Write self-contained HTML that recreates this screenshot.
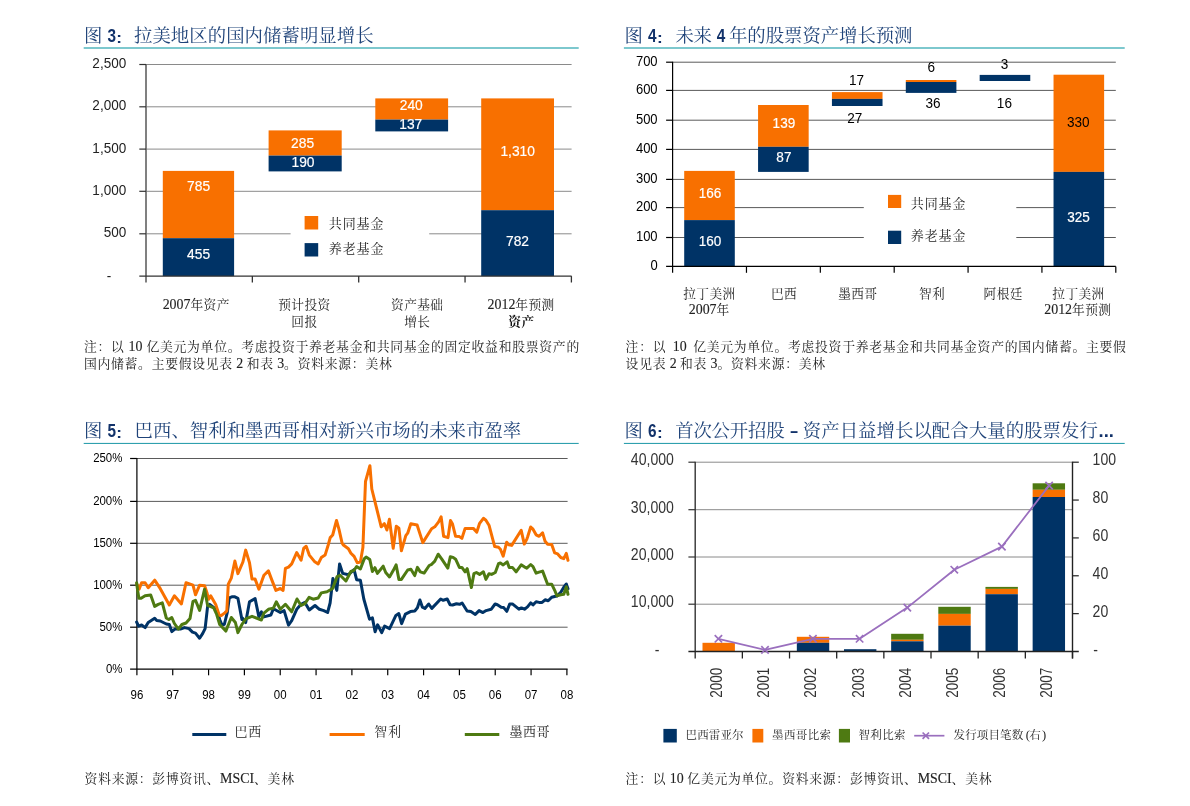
<!DOCTYPE html>
<html lang="zh"><head><meta charset="utf-8"><title>图表</title>
<style>html,body{margin:0;padding:0;background:#fff}svg{display:block}text{white-space:pre}</style>
</head><body>
<svg width="1190" height="806" viewBox="0 0 1190 806">
<rect width="1190" height="806" fill="#fff"/>
<text transform="translate(83.90,42.00)" font-size="18.4" text-anchor="start" fill="#1F4379" font-family='"Liberation Serif", "Noto Serif CJK SC", serif'>图</text>
<text transform="translate(107.40,41.50) scale(0.82,1)" font-size="18.7" text-anchor="start" fill="#12326A" font-family='"Liberation Sans", sans-serif' font-weight="bold">3</text>
<text transform="translate(116.20,42.80) scale(1.15,1)" font-size="15.0" text-anchor="start" fill="#12326A" font-family='"Liberation Sans", sans-serif' font-weight="bold">:</text>
<text transform="translate(134.00,42.00)" font-size="18.4" text-anchor="start" fill="#1F4379" font-family='"Liberation Serif", "Noto Serif CJK SC", serif' textLength="239.60" lengthAdjust="spacing">拉美地区的国内储蓄明显增长</text>
<rect x="83.70" y="47.00" width="495.00" height="2.00" fill="#7DC8CE"/>
<line x1="146.00" y1="64.50" x2="571.60" y2="64.50" stroke="#8a8a8a" stroke-width="1"/>
<line x1="146.00" y1="106.80" x2="571.60" y2="106.80" stroke="#8a8a8a" stroke-width="1"/>
<line x1="146.00" y1="149.10" x2="571.60" y2="149.10" stroke="#8a8a8a" stroke-width="1"/>
<line x1="146.00" y1="191.30" x2="571.60" y2="191.30" stroke="#8a8a8a" stroke-width="1"/>
<line x1="146.00" y1="233.80" x2="571.60" y2="233.80" stroke="#8a8a8a" stroke-width="1"/>
<rect x="290.60" y="205.00" width="138.60" height="61.00" fill="#fff"/>
<rect x="162.80" y="170.90" width="71.30" height="67.30" fill="#F87000"/>
<rect x="162.80" y="238.20" width="71.30" height="37.90" fill="#003366"/>
<rect x="268.60" y="130.40" width="73.10" height="25.20" fill="#F87000"/>
<rect x="268.60" y="155.60" width="73.10" height="15.80" fill="#003366"/>
<rect x="375.30" y="98.40" width="72.80" height="21.20" fill="#F87000"/>
<rect x="375.30" y="119.60" width="72.80" height="11.80" fill="#003366"/>
<rect x="481.20" y="98.40" width="72.80" height="111.80" fill="#F87000"/>
<rect x="481.20" y="210.20" width="72.80" height="65.90" fill="#003366"/>
<line x1="146.00" y1="63.90" x2="146.00" y2="282.50" stroke="#6a6a6a" stroke-width="1.7"/>
<line x1="139.30" y1="64.50" x2="146.00" y2="64.50" stroke="#333" stroke-width="1.2"/>
<line x1="139.30" y1="106.80" x2="146.00" y2="106.80" stroke="#333" stroke-width="1.2"/>
<line x1="139.30" y1="149.10" x2="146.00" y2="149.10" stroke="#333" stroke-width="1.2"/>
<line x1="139.30" y1="191.30" x2="146.00" y2="191.30" stroke="#333" stroke-width="1.2"/>
<line x1="139.30" y1="233.80" x2="146.00" y2="233.80" stroke="#333" stroke-width="1.2"/>
<line x1="139.30" y1="276.10" x2="571.60" y2="276.10" stroke="#333" stroke-width="1.4"/>
<line x1="252.35" y1="276.10" x2="252.35" y2="282.50" stroke="#333" stroke-width="1.3"/>
<line x1="358.70" y1="276.10" x2="358.70" y2="282.50" stroke="#333" stroke-width="1.3"/>
<line x1="465.05" y1="276.10" x2="465.05" y2="282.50" stroke="#333" stroke-width="1.3"/>
<line x1="571.40" y1="276.10" x2="571.40" y2="282.50" stroke="#333" stroke-width="1.3"/>
<text transform="translate(126.20,68.00) scale(0.89,1)" font-size="15.2" text-anchor="end" fill="#222" font-family='"Liberation Sans", sans-serif'>2,500</text>
<text transform="translate(126.20,110.30) scale(0.89,1)" font-size="15.2" text-anchor="end" fill="#222" font-family='"Liberation Sans", sans-serif'>2,000</text>
<text transform="translate(126.20,152.60) scale(0.89,1)" font-size="15.2" text-anchor="end" fill="#222" font-family='"Liberation Sans", sans-serif'>1,500</text>
<text transform="translate(126.20,194.80) scale(0.89,1)" font-size="15.2" text-anchor="end" fill="#222" font-family='"Liberation Sans", sans-serif'>1,000</text>
<text transform="translate(126.20,237.30) scale(0.89,1)" font-size="15.2" text-anchor="end" fill="#222" font-family='"Liberation Sans", sans-serif'>500</text>
<text transform="translate(109.00,280.70) scale(0.89,1)" font-size="15.2" text-anchor="middle" fill="#222" font-family='"Liberation Sans", sans-serif'>-</text>
<text transform="translate(198.60,191.45) scale(0.89,1)" font-size="15.5" text-anchor="middle" fill="#fff" font-family='"Liberation Sans", sans-serif' stroke="#fff" stroke-width="0.2">785</text>
<text transform="translate(198.60,258.95) scale(0.89,1)" font-size="15.5" text-anchor="middle" fill="#fff" font-family='"Liberation Sans", sans-serif' stroke="#fff" stroke-width="0.2">455</text>
<text transform="translate(302.60,147.65) scale(0.89,1)" font-size="15.5" text-anchor="middle" fill="#fff" font-family='"Liberation Sans", sans-serif' stroke="#fff" stroke-width="0.2">285</text>
<text transform="translate(303.00,167.45) scale(0.89,1)" font-size="15.5" text-anchor="middle" fill="#fff" font-family='"Liberation Sans", sans-serif' stroke="#fff" stroke-width="0.2">190</text>
<text transform="translate(411.30,110.05) scale(0.89,1)" font-size="15.5" text-anchor="middle" fill="#fff" font-family='"Liberation Sans", sans-serif' stroke="#fff" stroke-width="0.2">240</text>
<text transform="translate(410.80,128.75) scale(0.89,1)" font-size="15.5" text-anchor="middle" fill="#fff" font-family='"Liberation Sans", sans-serif' stroke="#fff" stroke-width="0.2">137</text>
<text transform="translate(517.70,156.45) scale(0.89,1)" font-size="15.5" text-anchor="middle" fill="#fff" font-family='"Liberation Sans", sans-serif' stroke="#fff" stroke-width="0.2">1,310</text>
<text transform="translate(517.50,246.05) scale(0.89,1)" font-size="15.5" text-anchor="middle" fill="#fff" font-family='"Liberation Sans", sans-serif' stroke="#fff" stroke-width="0.2">782</text>
<rect x="304.60" y="216.00" width="13.60" height="13.50" fill="#F87000"/>
<rect x="304.60" y="243.10" width="13.60" height="13.40" fill="#003366"/>
<text transform="translate(328.80,228.10)" font-size="13.0" text-anchor="start" fill="#222" font-family='"Liberation Serif", "Noto Serif CJK SC", serif' textLength="54.60" lengthAdjust="spacing">共同基金</text>
<text transform="translate(328.80,253.00)" font-size="13.0" text-anchor="start" fill="#222" font-family='"Liberation Serif", "Noto Serif CJK SC", serif' textLength="54.60" lengthAdjust="spacing">养老基金</text>
<text x="196.20" y="309.00" text-anchor="middle" fill="#222" font-family='"Liberation Serif", "Noto Serif CJK SC", serif'><tspan font-size="13.9" stroke="#222" stroke-width="0.12">2007</tspan><tspan font-size="12.7" letter-spacing="0.40">年资产</tspan></text>
<text x="304.40" y="309.00" text-anchor="middle" fill="#222" font-family='"Liberation Serif", "Noto Serif CJK SC", serif'><tspan font-size="12.7" letter-spacing="0.40">预计投资</tspan></text>
<text x="304.40" y="325.60" text-anchor="middle" fill="#222" font-family='"Liberation Serif", "Noto Serif CJK SC", serif'><tspan font-size="12.7" letter-spacing="0.40">回报</tspan></text>
<text x="417.30" y="309.00" text-anchor="middle" fill="#222" font-family='"Liberation Serif", "Noto Serif CJK SC", serif'><tspan font-size="12.7" letter-spacing="0.40">资产基础</tspan></text>
<text x="417.30" y="325.60" text-anchor="middle" fill="#222" font-family='"Liberation Serif", "Noto Serif CJK SC", serif'><tspan font-size="12.7" letter-spacing="0.40">增长</tspan></text>
<text x="521.10" y="309.00" text-anchor="middle" fill="#222" font-family='"Liberation Serif", "Noto Serif CJK SC", serif'><tspan font-size="13.9" stroke="#222" stroke-width="0.12">2012</tspan><tspan font-size="12.7" letter-spacing="0.40">年预测</tspan></text>
<text x="521.40" y="325.60" text-anchor="middle" fill="#111" font-family='"Liberation Serif", "Noto Serif CJK SC", serif' font-weight="bold"><tspan font-size="12.7" letter-spacing="0.40">资产</tspan></text>
<text x="83.90" y="350.60" fill="#222" font-family='"Liberation Serif", "Noto Serif CJK SC", serif'><tspan font-size="12.8" letter-spacing="0.75">注：以</tspan><tspan font-size="13.9" dx="4.0" stroke="#222" stroke-width="0.12">10</tspan><tspan font-size="12.8" letter-spacing="0.75" dx="4.0">亿美元为单位。考虑投资于养老基金和共同基金的固定收益和股票资产的</tspan></text>
<text x="83.90" y="368.40" fill="#222" font-family='"Liberation Serif", "Noto Serif CJK SC", serif'><tspan font-size="12.8" letter-spacing="0.75">国内储蓄。主要假设见表</tspan><tspan font-size="13.9" dx="3.4" stroke="#222" stroke-width="0.12">2</tspan><tspan font-size="12.8" letter-spacing="0.75" dx="3.4">和表</tspan><tspan font-size="13.9" dx="3.4" stroke="#222" stroke-width="0.12">3</tspan><tspan font-size="12.8" letter-spacing="0.75">。资料来源：美林</tspan></text>
<text transform="translate(624.60,42.00)" font-size="18.4" text-anchor="start" fill="#1F4379" font-family='"Liberation Serif", "Noto Serif CJK SC", serif'>图</text>
<text transform="translate(648.10,41.50) scale(0.82,1)" font-size="18.7" text-anchor="start" fill="#12326A" font-family='"Liberation Sans", sans-serif' font-weight="bold">4</text>
<text transform="translate(656.90,42.80) scale(1.15,1)" font-size="15.0" text-anchor="start" fill="#12326A" font-family='"Liberation Sans", sans-serif' font-weight="bold">:</text>
<text transform="translate(675.40,42.00)" font-size="18.4" text-anchor="start" fill="#1F4379" font-family='"Liberation Serif", "Noto Serif CJK SC", serif' textLength="36.40" lengthAdjust="spacing">未来</text>
<text transform="translate(716.80,41.50) scale(0.82,1)" font-size="18.7" text-anchor="start" fill="#12326A" font-family='"Liberation Sans", sans-serif' font-weight="bold">4</text>
<text transform="translate(729.00,42.00)" font-size="18.4" text-anchor="start" fill="#1F4379" font-family='"Liberation Serif", "Noto Serif CJK SC", serif' textLength="183.50" lengthAdjust="spacing">年的股票资产增长预测</text>
<rect x="623.90" y="47.00" width="500.80" height="2.00" fill="#7DC8CE"/>
<line x1="672.60" y1="237.50" x2="1115.80" y2="237.50" stroke="#5a5a5a" stroke-width="1"/>
<line x1="672.60" y1="207.60" x2="1115.80" y2="207.60" stroke="#5a5a5a" stroke-width="1"/>
<line x1="672.60" y1="179.40" x2="1115.80" y2="179.40" stroke="#5a5a5a" stroke-width="1"/>
<line x1="672.60" y1="149.40" x2="1115.80" y2="149.40" stroke="#5a5a5a" stroke-width="1"/>
<line x1="672.60" y1="120.20" x2="1115.80" y2="120.20" stroke="#5a5a5a" stroke-width="1"/>
<line x1="672.60" y1="90.40" x2="1115.80" y2="90.40" stroke="#5a5a5a" stroke-width="1"/>
<line x1="672.60" y1="62.20" x2="1115.80" y2="62.20" stroke="#5a5a5a" stroke-width="1"/>
<rect x="863.80" y="188.00" width="152.50" height="64.00" fill="#fff"/>
<rect x="684.20" y="170.90" width="50.60" height="49.20" fill="#F87000"/>
<rect x="684.20" y="220.10" width="50.60" height="46.30" fill="#003366"/>
<rect x="758.07" y="105.00" width="50.60" height="41.80" fill="#F87000"/>
<rect x="758.07" y="146.80" width="50.60" height="25.10" fill="#003366"/>
<rect x="831.93" y="92.10" width="50.60" height="6.80" fill="#F87000"/>
<rect x="831.93" y="98.90" width="50.60" height="7.10" fill="#003366"/>
<rect x="905.80" y="80.00" width="50.60" height="2.00" fill="#F87000"/>
<rect x="905.80" y="82.00" width="50.60" height="10.90" fill="#003366"/>
<rect x="979.67" y="74.90" width="50.60" height="6.10" fill="#003366"/>
<rect x="1053.53" y="74.70" width="50.60" height="97.20" fill="#F87000"/>
<rect x="1053.53" y="171.90" width="50.60" height="94.50" fill="#003366"/>
<line x1="672.60" y1="61.70" x2="672.60" y2="272.80" stroke="#000" stroke-width="1.2"/>
<line x1="666.10" y1="237.50" x2="672.60" y2="237.50" stroke="#000" stroke-width="1.2"/>
<line x1="666.10" y1="207.60" x2="672.60" y2="207.60" stroke="#000" stroke-width="1.2"/>
<line x1="666.10" y1="179.40" x2="672.60" y2="179.40" stroke="#000" stroke-width="1.2"/>
<line x1="666.10" y1="149.40" x2="672.60" y2="149.40" stroke="#000" stroke-width="1.2"/>
<line x1="666.10" y1="120.20" x2="672.60" y2="120.20" stroke="#000" stroke-width="1.2"/>
<line x1="666.10" y1="90.40" x2="672.60" y2="90.40" stroke="#000" stroke-width="1.2"/>
<line x1="666.10" y1="62.20" x2="672.60" y2="62.20" stroke="#000" stroke-width="1.2"/>
<line x1="666.10" y1="266.40" x2="1115.80" y2="266.40" stroke="#000" stroke-width="1.3"/>
<line x1="746.47" y1="266.40" x2="746.47" y2="272.80" stroke="#000" stroke-width="1.2"/>
<line x1="820.33" y1="266.40" x2="820.33" y2="272.80" stroke="#000" stroke-width="1.2"/>
<line x1="894.20" y1="266.40" x2="894.20" y2="272.80" stroke="#000" stroke-width="1.2"/>
<line x1="968.07" y1="266.40" x2="968.07" y2="272.80" stroke="#000" stroke-width="1.2"/>
<line x1="1041.93" y1="266.40" x2="1041.93" y2="272.80" stroke="#000" stroke-width="1.2"/>
<line x1="1115.80" y1="266.40" x2="1115.80" y2="272.80" stroke="#000" stroke-width="1.2"/>
<text transform="translate(657.60,270.00) scale(0.855,1)" font-size="15.2" text-anchor="end" fill="#000" font-family='"Liberation Sans", sans-serif'>0</text>
<text transform="translate(657.60,241.10) scale(0.855,1)" font-size="15.2" text-anchor="end" fill="#000" font-family='"Liberation Sans", sans-serif'>100</text>
<text transform="translate(657.60,211.20) scale(0.855,1)" font-size="15.2" text-anchor="end" fill="#000" font-family='"Liberation Sans", sans-serif'>200</text>
<text transform="translate(657.60,183.00) scale(0.855,1)" font-size="15.2" text-anchor="end" fill="#000" font-family='"Liberation Sans", sans-serif'>300</text>
<text transform="translate(657.60,153.00) scale(0.855,1)" font-size="15.2" text-anchor="end" fill="#000" font-family='"Liberation Sans", sans-serif'>400</text>
<text transform="translate(657.60,123.80) scale(0.855,1)" font-size="15.2" text-anchor="end" fill="#000" font-family='"Liberation Sans", sans-serif'>500</text>
<text transform="translate(657.60,94.00) scale(0.855,1)" font-size="15.2" text-anchor="end" fill="#000" font-family='"Liberation Sans", sans-serif'>600</text>
<text transform="translate(657.60,65.80) scale(0.855,1)" font-size="15.2" text-anchor="end" fill="#000" font-family='"Liberation Sans", sans-serif'>700</text>
<text transform="translate(710.10,198.45) scale(0.875,1)" font-size="15.5" text-anchor="middle" fill="#fff" font-family='"Liberation Sans", sans-serif' stroke="#fff" stroke-width="0.2">166</text>
<text transform="translate(710.10,245.55) scale(0.875,1)" font-size="15.5" text-anchor="middle" fill="#fff" font-family='"Liberation Sans", sans-serif' stroke="#fff" stroke-width="0.2">160</text>
<text transform="translate(783.90,128.25) scale(0.875,1)" font-size="15.5" text-anchor="middle" fill="#fff" font-family='"Liberation Sans", sans-serif' stroke="#fff" stroke-width="0.2">139</text>
<text transform="translate(783.90,161.85) scale(0.875,1)" font-size="15.5" text-anchor="middle" fill="#fff" font-family='"Liberation Sans", sans-serif' stroke="#fff" stroke-width="0.2">87</text>
<text transform="translate(856.50,84.75) scale(0.875,1)" font-size="15.5" text-anchor="middle" fill="#000" font-family='"Liberation Sans", sans-serif'>17</text>
<text transform="translate(854.80,122.85) scale(0.875,1)" font-size="15.5" text-anchor="middle" fill="#000" font-family='"Liberation Sans", sans-serif'>27</text>
<text transform="translate(931.30,71.75) scale(0.875,1)" font-size="15.5" text-anchor="middle" fill="#000" font-family='"Liberation Sans", sans-serif'>6</text>
<text transform="translate(933.00,107.75) scale(0.875,1)" font-size="15.5" text-anchor="middle" fill="#000" font-family='"Liberation Sans", sans-serif'>36</text>
<text transform="translate(1004.40,68.95) scale(0.875,1)" font-size="15.5" text-anchor="middle" fill="#000" font-family='"Liberation Sans", sans-serif'>3</text>
<text transform="translate(1004.40,107.75) scale(0.875,1)" font-size="15.5" text-anchor="middle" fill="#000" font-family='"Liberation Sans", sans-serif'>16</text>
<text transform="translate(1078.30,126.85) scale(0.875,1)" font-size="15.5" text-anchor="middle" fill="#000" font-family='"Liberation Sans", sans-serif'>330</text>
<text transform="translate(1078.60,221.85) scale(0.875,1)" font-size="15.5" text-anchor="middle" fill="#fff" font-family='"Liberation Sans", sans-serif' stroke="#fff" stroke-width="0.2">325</text>
<rect x="888.00" y="194.90" width="13.20" height="13.10" fill="#F87000"/>
<rect x="888.00" y="230.70" width="13.20" height="13.30" fill="#003366"/>
<text transform="translate(910.80,207.50)" font-size="13.0" text-anchor="start" fill="#222" font-family='"Liberation Serif", "Noto Serif CJK SC", serif' textLength="54.60" lengthAdjust="spacing">共同基金</text>
<text transform="translate(910.80,239.80)" font-size="13.0" text-anchor="start" fill="#222" font-family='"Liberation Serif", "Noto Serif CJK SC", serif' textLength="54.60" lengthAdjust="spacing">养老基金</text>
<text x="709.40" y="298.10" text-anchor="middle" fill="#222" font-family='"Liberation Serif", "Noto Serif CJK SC", serif'><tspan font-size="12.7" letter-spacing="0.40">拉丁美洲</tspan></text>
<text x="784.10" y="298.10" text-anchor="middle" fill="#222" font-family='"Liberation Serif", "Noto Serif CJK SC", serif'><tspan font-size="12.7" letter-spacing="0.40">巴西</tspan></text>
<text x="857.80" y="298.10" text-anchor="middle" fill="#222" font-family='"Liberation Serif", "Noto Serif CJK SC", serif'><tspan font-size="12.7" letter-spacing="0.40">墨西哥</tspan></text>
<text x="932.00" y="298.10" text-anchor="middle" fill="#222" font-family='"Liberation Serif", "Noto Serif CJK SC", serif'><tspan font-size="12.7" letter-spacing="0.40">智利</tspan></text>
<text x="1003.20" y="298.10" text-anchor="middle" fill="#222" font-family='"Liberation Serif", "Noto Serif CJK SC", serif'><tspan font-size="12.7" letter-spacing="0.40">阿根廷</tspan></text>
<text x="1078.50" y="298.10" text-anchor="middle" fill="#222" font-family='"Liberation Serif", "Noto Serif CJK SC", serif'><tspan font-size="12.7" letter-spacing="0.40">拉丁美洲</tspan></text>
<text x="709.20" y="314.00" text-anchor="middle" fill="#222" font-family='"Liberation Serif", "Noto Serif CJK SC", serif'><tspan font-size="13.9" stroke="#222" stroke-width="0.12">2007</tspan><tspan font-size="12.7" letter-spacing="0.40">年</tspan></text>
<text x="1077.80" y="314.00" text-anchor="middle" fill="#222" font-family='"Liberation Serif", "Noto Serif CJK SC", serif'><tspan font-size="13.9" stroke="#222" stroke-width="0.12">2012</tspan><tspan font-size="12.7" letter-spacing="0.40">年预测</tspan></text>
<text x="625.60" y="350.60" fill="#222" font-family='"Liberation Serif", "Noto Serif CJK SC", serif'><tspan font-size="12.8" letter-spacing="0.75">注：以</tspan><tspan font-size="13.9" dx="6.5" stroke="#222" stroke-width="0.12">10</tspan><tspan font-size="12.8" letter-spacing="0.75" dx="6.5">亿美元为单位。考虑投资于养老基金和共同基金资产的国内储蓄。主要假</tspan></text>
<text x="625.60" y="368.40" fill="#222" font-family='"Liberation Serif", "Noto Serif CJK SC", serif'><tspan font-size="12.8" letter-spacing="0.75">设见表</tspan><tspan font-size="13.9" dx="3.4" stroke="#222" stroke-width="0.12">2</tspan><tspan font-size="12.8" letter-spacing="0.75" dx="3.4">和表</tspan><tspan font-size="13.9" dx="3.4" stroke="#222" stroke-width="0.12">3</tspan><tspan font-size="12.8" letter-spacing="0.75">。资料来源：美林</tspan></text>
<text transform="translate(83.90,437.30)" font-size="18.4" text-anchor="start" fill="#1F4379" font-family='"Liberation Serif", "Noto Serif CJK SC", serif'>图</text>
<text transform="translate(107.40,436.80) scale(0.82,1)" font-size="18.7" text-anchor="start" fill="#12326A" font-family='"Liberation Sans", sans-serif' font-weight="bold">5</text>
<text transform="translate(116.20,438.10) scale(1.15,1)" font-size="15.0" text-anchor="start" fill="#12326A" font-family='"Liberation Sans", sans-serif' font-weight="bold">:</text>
<text transform="translate(134.60,437.30)" font-size="18.4" text-anchor="start" fill="#1F4379" font-family='"Liberation Serif", "Noto Serif CJK SC", serif' textLength="386.60" lengthAdjust="spacing">巴西、智利和墨西哥相对新兴市场的未来市盈率</text>
<rect x="83.70" y="442.90" width="495.00" height="1.10" fill="#2FA0AE"/>
<line x1="136.90" y1="627.20" x2="567.60" y2="627.20" stroke="#5a5a5a" stroke-width="1"/>
<line x1="136.90" y1="585.20" x2="567.60" y2="585.20" stroke="#5a5a5a" stroke-width="1"/>
<line x1="136.90" y1="543.30" x2="567.60" y2="543.30" stroke="#5a5a5a" stroke-width="1"/>
<line x1="136.90" y1="501.40" x2="567.60" y2="501.40" stroke="#5a5a5a" stroke-width="1"/>
<line x1="136.90" y1="458.50" x2="567.60" y2="458.50" stroke="#5a5a5a" stroke-width="1"/>
<line x1="136.90" y1="458.00" x2="136.90" y2="675.30" stroke="#000" stroke-width="1.2"/>
<line x1="130.10" y1="627.20" x2="136.90" y2="627.20" stroke="#000" stroke-width="1.2"/>
<line x1="130.10" y1="585.20" x2="136.90" y2="585.20" stroke="#000" stroke-width="1.2"/>
<line x1="130.10" y1="543.30" x2="136.90" y2="543.30" stroke="#000" stroke-width="1.2"/>
<line x1="130.10" y1="501.40" x2="136.90" y2="501.40" stroke="#000" stroke-width="1.2"/>
<line x1="130.10" y1="458.50" x2="136.90" y2="458.50" stroke="#000" stroke-width="1.2"/>
<line x1="130.10" y1="669.20" x2="567.60" y2="669.20" stroke="#000" stroke-width="1.3"/>
<text transform="translate(136.90,698.60) scale(0.85,1)" font-size="13.5" text-anchor="middle" fill="#000" font-family='"Liberation Sans", sans-serif'>96</text>
<line x1="172.73" y1="669.20" x2="172.73" y2="675.30" stroke="#000" stroke-width="1.2"/>
<text transform="translate(172.73,698.60) scale(0.85,1)" font-size="13.5" text-anchor="middle" fill="#000" font-family='"Liberation Sans", sans-serif'>97</text>
<line x1="208.57" y1="669.20" x2="208.57" y2="675.30" stroke="#000" stroke-width="1.2"/>
<text transform="translate(208.57,698.60) scale(0.85,1)" font-size="13.5" text-anchor="middle" fill="#000" font-family='"Liberation Sans", sans-serif'>98</text>
<line x1="244.40" y1="669.20" x2="244.40" y2="675.30" stroke="#000" stroke-width="1.2"/>
<text transform="translate(244.40,698.60) scale(0.85,1)" font-size="13.5" text-anchor="middle" fill="#000" font-family='"Liberation Sans", sans-serif'>99</text>
<line x1="280.23" y1="669.20" x2="280.23" y2="675.30" stroke="#000" stroke-width="1.2"/>
<text transform="translate(280.23,698.60) scale(0.85,1)" font-size="13.5" text-anchor="middle" fill="#000" font-family='"Liberation Sans", sans-serif'>00</text>
<line x1="316.07" y1="669.20" x2="316.07" y2="675.30" stroke="#000" stroke-width="1.2"/>
<text transform="translate(316.07,698.60) scale(0.85,1)" font-size="13.5" text-anchor="middle" fill="#000" font-family='"Liberation Sans", sans-serif'>01</text>
<line x1="351.90" y1="669.20" x2="351.90" y2="675.30" stroke="#000" stroke-width="1.2"/>
<text transform="translate(351.90,698.60) scale(0.85,1)" font-size="13.5" text-anchor="middle" fill="#000" font-family='"Liberation Sans", sans-serif'>02</text>
<line x1="387.73" y1="669.20" x2="387.73" y2="675.30" stroke="#000" stroke-width="1.2"/>
<text transform="translate(387.73,698.60) scale(0.85,1)" font-size="13.5" text-anchor="middle" fill="#000" font-family='"Liberation Sans", sans-serif'>03</text>
<line x1="423.57" y1="669.20" x2="423.57" y2="675.30" stroke="#000" stroke-width="1.2"/>
<text transform="translate(423.57,698.60) scale(0.85,1)" font-size="13.5" text-anchor="middle" fill="#000" font-family='"Liberation Sans", sans-serif'>04</text>
<line x1="459.40" y1="669.20" x2="459.40" y2="675.30" stroke="#000" stroke-width="1.2"/>
<text transform="translate(459.40,698.60) scale(0.85,1)" font-size="13.5" text-anchor="middle" fill="#000" font-family='"Liberation Sans", sans-serif'>05</text>
<line x1="495.23" y1="669.20" x2="495.23" y2="675.30" stroke="#000" stroke-width="1.2"/>
<text transform="translate(495.23,698.60) scale(0.85,1)" font-size="13.5" text-anchor="middle" fill="#000" font-family='"Liberation Sans", sans-serif'>06</text>
<line x1="531.07" y1="669.20" x2="531.07" y2="675.30" stroke="#000" stroke-width="1.2"/>
<text transform="translate(531.07,698.60) scale(0.85,1)" font-size="13.5" text-anchor="middle" fill="#000" font-family='"Liberation Sans", sans-serif'>07</text>
<line x1="566.90" y1="669.20" x2="566.90" y2="675.30" stroke="#000" stroke-width="1.2"/>
<text transform="translate(566.90,698.60) scale(0.85,1)" font-size="13.5" text-anchor="middle" fill="#000" font-family='"Liberation Sans", sans-serif'>08</text>
<text transform="translate(122.40,672.90) scale(0.847,1)" font-size="13.5" text-anchor="end" fill="#000" font-family='"Liberation Sans", sans-serif'>0%</text>
<text transform="translate(122.40,630.90) scale(0.847,1)" font-size="13.5" text-anchor="end" fill="#000" font-family='"Liberation Sans", sans-serif'>50%</text>
<text transform="translate(122.40,588.90) scale(0.847,1)" font-size="13.5" text-anchor="end" fill="#000" font-family='"Liberation Sans", sans-serif'>100%</text>
<text transform="translate(122.40,547.00) scale(0.847,1)" font-size="13.5" text-anchor="end" fill="#000" font-family='"Liberation Sans", sans-serif'>150%</text>
<text transform="translate(122.40,505.10) scale(0.847,1)" font-size="13.5" text-anchor="end" fill="#000" font-family='"Liberation Sans", sans-serif'>200%</text>
<text transform="translate(122.40,462.20) scale(0.847,1)" font-size="13.5" text-anchor="end" fill="#000" font-family='"Liberation Sans", sans-serif'>250%</text>
<polyline points="136.6,622.0 138.6,626.1 141.6,625.0 145.1,627.6 148.2,622.5 154.7,618.3 156.7,620.5 160.3,621.0 166.3,624.0 169.3,624.5 171.8,631.6 174.9,629.1 180.4,629.1 184.5,627.6 189.0,628.6 192.5,632.1 195.5,633.1 199.6,638.2 202.6,633.6 205.1,628.6 207.6,606.4 209.7,604.4 213.7,607.4 216.7,609.4 219.7,619.5 221.8,624.5 224.3,624.5 227.3,612.4 229.3,597.8 231.8,596.8 234.9,596.8 237.9,598.3 241.9,619.5 242.5,618.2 245.7,622.6 249.5,601.8 255.1,598.6 258.9,616.9 261.4,611.8 263.9,616.9 270.9,615.0 273.4,608.7 280.3,612.5 284.1,610.6 288.5,625.1 291.7,620.7 296.7,609.3 301.1,604.3 304.9,602.4 309.3,610.0 315.0,605.5 319.4,609.3 323.8,610.6 327.6,612.5 330.1,603.0 332.9,578.4 336.8,590.4 339.6,563.9 342.7,573.4 348.4,574.7 354.1,569.6 356.6,579.7 360.4,580.3 363.8,599.0 369.5,619.2 372.4,617.9 375.1,631.8 377.6,624.8 381.7,632.6 384.6,626.1 389.6,628.6 395.9,615.4 398.8,613.5 401.6,623.6 405.4,614.1 410.4,611.6 414.8,611.0 417.4,607.8 419.9,600.0 422.4,607.2 424.9,608.4 428.7,604.0 431.8,608.4 440.7,599.0 443.2,600.3 447.2,599.0 450.1,604.7 452.6,605.0 456.4,603.8 459.6,604.3 462.1,603.0 467.1,611.0 470.9,611.6 475.3,614.4 479.1,610.6 482.9,612.6 486.1,610.6 491.1,609.3 495.1,604.0 497.4,604.7 501.2,607.2 503.7,607.6 506.8,611.3 509.8,603.9 512.4,603.9 518.9,609.2 521.4,607.9 524.5,609.2 527.5,606.9 530.7,602.9 533.0,604.9 536.1,601.8 539.1,602.4 542.1,602.4 545.1,599.8 548.2,600.8 551.7,597.3 554.7,596.5 556.9,596.1 560.8,592.3 563.8,587.2 566.3,584.0 568.0,588.7" fill="none" stroke="#003366" stroke-width="3" stroke-linejoin="round" stroke-linecap="round"/>
<polyline points="136.9,584.2 139.1,589.2 141.6,582.7 145.1,582.7 148.2,587.7 154.7,580.2 160.3,588.7 169.3,604.9 174.4,595.8 181.4,603.9 186.0,582.7 193.0,585.2 195.5,594.8 199.6,585.2 204.6,585.7 207.1,593.3 208.7,599.3 210.7,595.8 215.7,604.4 219.2,615.3 221.3,615.5 224.8,612.9 226.8,610.9 228.3,584.2 231.3,578.2 234.9,561.0 237.9,573.6 242.9,562.0 245.7,550.1 249.5,562.7 252.0,579.1 255.1,579.1 258.9,589.2 263.9,575.3 268.4,570.9 271.5,579.1 275.9,590.4 280.3,588.5 283.1,590.4 285.4,568.4 288.5,567.1 291.7,563.9 296.7,552.6 301.1,560.2 303.7,548.2 306.2,546.3 309.3,555.1 314.4,561.4 318.2,563.9 321.3,557.6 325.1,555.1 328.2,545.0 330.2,537.6 332.7,535.0 336.5,520.5 339.0,529.4 342.1,543.2 343.4,545.0 348.4,548.8 350.9,553.2 354.1,556.4 357.2,562.7 360.4,562.1 362.9,547.6 365.5,481.5 369.9,465.7 371.8,489.0 381.2,526.8 384.4,523.7 386.9,530.0 389.4,519.3 393.2,548.3 396.3,526.2 398.9,528.1 401.4,550.8 405.8,535.7 407.7,533.2 410.8,523.7 417.1,525.0 422.8,542.6 431.6,528.7 434.8,526.8 438.6,521.8 441.1,516.8 443.6,536.3 448.0,537.6 450.5,520.5 452.4,523.7 455.6,536.3 459.4,536.6 461.9,538.4 465.1,528.4 473.3,528.4 476.8,532.1 479.6,523.3 483.4,518.3 485.9,520.2 489.0,525.2 494.7,546.6 498.5,547.3 500.4,549.2 503.2,556.1 506.7,542.2 508.6,544.7 511.7,545.4 521.2,530.3 524.3,544.1 526.8,539.1 527.5,537.3 530.7,527.0 533.0,529.2 536.1,534.8 539.1,536.3 542.6,532.8 545.1,541.3 547.6,544.2 551.7,544.4 554.7,552.9 557.7,553.9 560.8,557.5 563.8,558.7 566.3,553.4 568.0,560.3" fill="none" stroke="#F87000" stroke-width="3" stroke-linejoin="round" stroke-linecap="round"/>
<polyline points="136.6,582.7 137.6,590.3 138.9,598.3 141.1,598.3 145.1,595.8 150.7,595.1 154.7,606.4 158.2,604.4 162.3,602.9 166.3,618.0 168.8,619.5 171.8,617.5 174.4,623.5 178.4,629.1 181.9,624.5 186.0,623.0 190.0,618.5 193.0,601.3 195.5,600.3 199.6,610.4 204.6,589.2 207.6,605.4 213.7,607.9 216.7,614.5 219.7,624.5 225.8,631.1 231.3,617.5 235.4,622.5 237.9,632.6 241.9,624.5 245.7,618.8 252.0,616.3 261.4,620.0 263.9,613.1 268.4,609.3 273.4,608.1 276.3,601.8 280.3,609.3 285.4,604.3 291.7,611.8 297.0,599.0 301.1,605.5 304.9,603.7 309.1,597.4 313.1,599.2 318.2,598.0 321.3,592.9 327.0,591.7 332.6,588.5 337.1,576.6 340.2,575.3 345.9,581.0 350.9,571.5 354.1,570.3 356.6,566.5 360.4,569.0 364.2,558.9 366.1,557.0 369.8,559.5 372.4,571.5 374.9,567.7 377.4,573.4 383.2,566.2 385.7,572.5 389.5,576.9 393.2,570.6 396.1,564.9 398.9,579.4 401.4,579.4 407.7,570.0 410.9,569.3 414.7,575.6 417.4,567.4 420.3,571.8 424.1,573.1 429.2,565.5 431.7,564.3 434.8,561.1 438.2,554.2 441.8,559.2 447.8,568.1 450.3,556.7 453.1,557.4 455.6,559.2 459.4,567.4 461.9,567.4 465.1,571.8 467.2,568.7 471.4,587.6 473.9,573.7 476.4,572.5 479.6,574.4 483.4,571.8 485.9,579.4 489.0,573.7 491.6,574.4 495.3,572.5 498.5,563.7 500.4,563.0 503.2,564.9 507.1,561.8 509.2,567.4 512.4,567.4 516.1,571.8 521.2,564.9 524.3,566.8 526.8,568.1 530.7,564.5 533.0,566.6 536.1,573.1 539.1,572.1 542.6,571.1 547.6,584.2 551.7,584.2 554.7,590.3 556.9,595.8 560.8,594.8 563.8,594.3 566.3,586.7 568.0,594.3" fill="none" stroke="#4E7A12" stroke-width="3" stroke-linejoin="round" stroke-linecap="round"/>
<line x1="192.30" y1="734.40" x2="226.30" y2="734.40" stroke="#003366" stroke-width="3"/>
<text transform="translate(234.60,736.00)" font-size="13.0" text-anchor="start" fill="#222" font-family='"Liberation Serif", "Noto Serif CJK SC", serif' textLength="26.60" lengthAdjust="spacing">巴西</text>
<line x1="329.60" y1="734.40" x2="364.70" y2="734.40" stroke="#F87000" stroke-width="3"/>
<text transform="translate(374.30,736.00)" font-size="13.0" text-anchor="start" fill="#222" font-family='"Liberation Serif", "Noto Serif CJK SC", serif' textLength="26.60" lengthAdjust="spacing">智利</text>
<line x1="464.80" y1="734.40" x2="499.30" y2="734.40" stroke="#4E7A12" stroke-width="3"/>
<text transform="translate(509.60,736.00)" font-size="13.0" text-anchor="start" fill="#222" font-family='"Liberation Serif", "Noto Serif CJK SC", serif' textLength="39.90" lengthAdjust="spacing">墨西哥</text>
<text x="84.60" y="782.60" fill="#222" font-family='"Liberation Serif", "Noto Serif CJK SC", serif'><tspan font-size="12.8" letter-spacing="0.75">资料来源：彭博资讯、</tspan><tspan font-size="13.9" stroke="#222" stroke-width="0.12">MSCI</tspan><tspan font-size="12.8" letter-spacing="0.75">、美林</tspan></text>
<text transform="translate(624.60,437.30)" font-size="18.4" text-anchor="start" fill="#1F4379" font-family='"Liberation Serif", "Noto Serif CJK SC", serif'>图</text>
<text transform="translate(648.10,436.80) scale(0.82,1)" font-size="18.7" text-anchor="start" fill="#12326A" font-family='"Liberation Sans", sans-serif' font-weight="bold">6</text>
<text transform="translate(656.90,438.10) scale(1.15,1)" font-size="15.0" text-anchor="start" fill="#12326A" font-family='"Liberation Sans", sans-serif' font-weight="bold">:</text>
<text transform="translate(675.20,437.30)" font-size="18.4" text-anchor="start" fill="#1F4379" font-family='"Liberation Serif", "Noto Serif CJK SC", serif' textLength="109.40" lengthAdjust="spacing">首次公开招股</text>
<text transform="translate(790.20,436.80) scale(0.74,1)" font-size="18.7" text-anchor="start" fill="#12326A" font-family='"Liberation Sans", sans-serif' font-weight="bold">–</text>
<text transform="translate(802.80,437.30)" font-size="18.4" text-anchor="start" fill="#1F4379" font-family='"Liberation Serif", "Noto Serif CJK SC", serif' textLength="295.00" lengthAdjust="spacing">资产日益增长以配合大量的股票发行</text>
<text transform="translate(1098.60,436.80) scale(0.98,1)" font-size="18.7" text-anchor="start" fill="#12326A" font-family='"Liberation Sans", sans-serif' font-weight="bold">...</text>
<rect x="623.90" y="442.90" width="500.80" height="1.10" fill="#2FA0AE"/>
<line x1="695.20" y1="604.20" x2="1072.50" y2="604.20" stroke="#8a8a8a" stroke-width="1"/>
<line x1="695.20" y1="557.00" x2="1072.50" y2="557.00" stroke="#8a8a8a" stroke-width="1"/>
<line x1="695.20" y1="509.70" x2="1072.50" y2="509.70" stroke="#8a8a8a" stroke-width="1"/>
<line x1="695.20" y1="462.20" x2="1072.50" y2="462.20" stroke="#8a8a8a" stroke-width="1"/>
<rect x="702.50" y="642.80" width="32.40" height="8.70" fill="#F87000"/>
<rect x="796.83" y="636.80" width="32.40" height="6.00" fill="#F87000"/>
<rect x="796.83" y="642.80" width="32.40" height="8.70" fill="#003366"/>
<rect x="843.99" y="649.20" width="32.40" height="2.30" fill="#003366"/>
<rect x="891.15" y="633.80" width="32.40" height="6.00" fill="#4E7A12"/>
<rect x="891.15" y="639.80" width="32.40" height="1.50" fill="#F87000"/>
<rect x="891.15" y="641.30" width="32.40" height="10.20" fill="#003366"/>
<rect x="938.31" y="606.80" width="32.40" height="7.10" fill="#4E7A12"/>
<rect x="938.31" y="613.90" width="32.40" height="11.80" fill="#F87000"/>
<rect x="938.31" y="625.70" width="32.40" height="25.80" fill="#003366"/>
<rect x="985.47" y="586.90" width="32.40" height="2.00" fill="#4E7A12"/>
<rect x="985.47" y="588.90" width="32.40" height="5.30" fill="#F87000"/>
<rect x="985.47" y="594.20" width="32.40" height="57.30" fill="#003366"/>
<rect x="1032.64" y="483.30" width="32.40" height="6.50" fill="#4E7A12"/>
<rect x="1032.64" y="489.80" width="32.40" height="7.20" fill="#F87000"/>
<rect x="1032.64" y="497.00" width="32.40" height="154.50" fill="#003366"/>
<line x1="695.20" y1="461.70" x2="695.20" y2="658.50" stroke="#333" stroke-width="1.4"/>
<line x1="688.40" y1="604.20" x2="695.20" y2="604.20" stroke="#333" stroke-width="1.2"/>
<line x1="688.40" y1="557.00" x2="695.20" y2="557.00" stroke="#333" stroke-width="1.2"/>
<line x1="688.40" y1="509.70" x2="695.20" y2="509.70" stroke="#333" stroke-width="1.2"/>
<line x1="688.40" y1="462.20" x2="695.20" y2="462.20" stroke="#333" stroke-width="1.2"/>
<line x1="688.40" y1="651.50" x2="1078.80" y2="651.50" stroke="#222" stroke-width="1.4"/>
<line x1="742.36" y1="651.50" x2="742.36" y2="658.50" stroke="#222" stroke-width="1.3"/>
<line x1="789.53" y1="651.50" x2="789.53" y2="658.50" stroke="#222" stroke-width="1.3"/>
<line x1="836.69" y1="651.50" x2="836.69" y2="658.50" stroke="#222" stroke-width="1.3"/>
<line x1="883.85" y1="651.50" x2="883.85" y2="658.50" stroke="#222" stroke-width="1.3"/>
<line x1="931.01" y1="651.50" x2="931.01" y2="658.50" stroke="#222" stroke-width="1.3"/>
<line x1="978.17" y1="651.50" x2="978.17" y2="658.50" stroke="#222" stroke-width="1.3"/>
<line x1="1025.34" y1="651.50" x2="1025.34" y2="658.50" stroke="#222" stroke-width="1.3"/>
<line x1="1072.50" y1="651.50" x2="1072.50" y2="658.50" stroke="#222" stroke-width="1.3"/>
<line x1="1072.50" y1="461.70" x2="1072.50" y2="658.50" stroke="#222" stroke-width="1.4"/>
<line x1="1072.50" y1="613.64" x2="1078.80" y2="613.64" stroke="#222" stroke-width="1.2"/>
<line x1="1072.50" y1="575.78" x2="1078.80" y2="575.78" stroke="#222" stroke-width="1.2"/>
<line x1="1072.50" y1="537.92" x2="1078.80" y2="537.92" stroke="#222" stroke-width="1.2"/>
<line x1="1072.50" y1="500.06" x2="1078.80" y2="500.06" stroke="#222" stroke-width="1.2"/>
<line x1="1072.50" y1="462.20" x2="1078.80" y2="462.20" stroke="#222" stroke-width="1.2"/>
<polyline points="718.4,638.8 765.0,649.9 812.9,638.8 859.6,638.8 907.3,607.6 954.3,569.7 1001.9,546.6 1049.1,485.6" fill="none" stroke="#9A6FBE" stroke-width="1.8" stroke-linejoin="round"/>
<line x1="714.70" y1="635.10" x2="722.10" y2="642.50" stroke="#9A6FBE" stroke-width="1.7"/>
<line x1="714.70" y1="642.50" x2="722.10" y2="635.10" stroke="#9A6FBE" stroke-width="1.7"/>
<line x1="761.30" y1="646.20" x2="768.70" y2="653.60" stroke="#9A6FBE" stroke-width="1.7"/>
<line x1="761.30" y1="653.60" x2="768.70" y2="646.20" stroke="#9A6FBE" stroke-width="1.7"/>
<line x1="809.20" y1="635.10" x2="816.60" y2="642.50" stroke="#9A6FBE" stroke-width="1.7"/>
<line x1="809.20" y1="642.50" x2="816.60" y2="635.10" stroke="#9A6FBE" stroke-width="1.7"/>
<line x1="855.90" y1="635.10" x2="863.30" y2="642.50" stroke="#9A6FBE" stroke-width="1.7"/>
<line x1="855.90" y1="642.50" x2="863.30" y2="635.10" stroke="#9A6FBE" stroke-width="1.7"/>
<line x1="903.60" y1="603.90" x2="911.00" y2="611.30" stroke="#9A6FBE" stroke-width="1.7"/>
<line x1="903.60" y1="611.30" x2="911.00" y2="603.90" stroke="#9A6FBE" stroke-width="1.7"/>
<line x1="950.60" y1="566.00" x2="958.00" y2="573.40" stroke="#9A6FBE" stroke-width="1.7"/>
<line x1="950.60" y1="573.40" x2="958.00" y2="566.00" stroke="#9A6FBE" stroke-width="1.7"/>
<line x1="998.20" y1="542.90" x2="1005.60" y2="550.30" stroke="#9A6FBE" stroke-width="1.7"/>
<line x1="998.20" y1="550.30" x2="1005.60" y2="542.90" stroke="#9A6FBE" stroke-width="1.7"/>
<line x1="1045.40" y1="481.90" x2="1052.80" y2="489.30" stroke="#9A6FBE" stroke-width="1.7"/>
<line x1="1045.40" y1="489.30" x2="1052.80" y2="481.90" stroke="#9A6FBE" stroke-width="1.7"/>
<text transform="translate(673.90,607.40) scale(0.833,1)" font-size="16.9" text-anchor="end" fill="#333" font-family='"Liberation Sans", sans-serif'>10,000</text>
<text transform="translate(673.90,560.20) scale(0.833,1)" font-size="16.9" text-anchor="end" fill="#333" font-family='"Liberation Sans", sans-serif'>20,000</text>
<text transform="translate(673.90,512.90) scale(0.833,1)" font-size="16.9" text-anchor="end" fill="#333" font-family='"Liberation Sans", sans-serif'>30,000</text>
<text transform="translate(673.90,465.40) scale(0.833,1)" font-size="16.9" text-anchor="end" fill="#333" font-family='"Liberation Sans", sans-serif'>40,000</text>
<text transform="translate(657.00,655.10) scale(0.833,1)" font-size="16.9" text-anchor="middle" fill="#333" font-family='"Liberation Sans", sans-serif'>-</text>
<text transform="translate(1092.60,616.54) scale(0.833,1)" font-size="16.9" text-anchor="start" fill="#333" font-family='"Liberation Sans", sans-serif'>20</text>
<text transform="translate(1092.60,578.68) scale(0.833,1)" font-size="16.9" text-anchor="start" fill="#333" font-family='"Liberation Sans", sans-serif'>40</text>
<text transform="translate(1092.60,540.82) scale(0.833,1)" font-size="16.9" text-anchor="start" fill="#333" font-family='"Liberation Sans", sans-serif'>60</text>
<text transform="translate(1092.60,502.96) scale(0.833,1)" font-size="16.9" text-anchor="start" fill="#333" font-family='"Liberation Sans", sans-serif'>80</text>
<text transform="translate(1092.60,465.10) scale(0.833,1)" font-size="16.9" text-anchor="start" fill="#333" font-family='"Liberation Sans", sans-serif'>100</text>
<text transform="translate(1095.50,655.10) scale(0.833,1)" font-size="16.9" text-anchor="middle" fill="#333" font-family='"Liberation Sans", sans-serif'>-</text>
<text transform="translate(722.08,667.80) rotate(-90) scale(0.84,1)" font-size="16.0" text-anchor="end" fill="#333" font-family='"Liberation Sans", sans-serif'>2000</text>
<text transform="translate(769.24,667.80) rotate(-90) scale(0.84,1)" font-size="16.0" text-anchor="end" fill="#333" font-family='"Liberation Sans", sans-serif'>2001</text>
<text transform="translate(816.41,667.80) rotate(-90) scale(0.84,1)" font-size="16.0" text-anchor="end" fill="#333" font-family='"Liberation Sans", sans-serif'>2002</text>
<text transform="translate(863.57,667.80) rotate(-90) scale(0.84,1)" font-size="16.0" text-anchor="end" fill="#333" font-family='"Liberation Sans", sans-serif'>2003</text>
<text transform="translate(910.73,667.80) rotate(-90) scale(0.84,1)" font-size="16.0" text-anchor="end" fill="#333" font-family='"Liberation Sans", sans-serif'>2004</text>
<text transform="translate(957.89,667.80) rotate(-90) scale(0.84,1)" font-size="16.0" text-anchor="end" fill="#333" font-family='"Liberation Sans", sans-serif'>2005</text>
<text transform="translate(1005.06,667.80) rotate(-90) scale(0.84,1)" font-size="16.0" text-anchor="end" fill="#333" font-family='"Liberation Sans", sans-serif'>2006</text>
<text transform="translate(1052.22,667.80) rotate(-90) scale(0.84,1)" font-size="16.0" text-anchor="end" fill="#333" font-family='"Liberation Sans", sans-serif'>2007</text>
<rect x="663.40" y="728.90" width="13.40" height="13.60" fill="#003366"/>
<text transform="translate(685.60,739.20)" font-size="11.5" text-anchor="start" fill="#222" font-family='"Liberation Serif", "Noto Serif CJK SC", serif' textLength="58.00" lengthAdjust="spacing">巴西雷亚尔</text>
<rect x="752.40" y="728.90" width="10.90" height="13.60" fill="#F87000"/>
<text transform="translate(772.10,739.20)" font-size="11.5" text-anchor="start" fill="#222" font-family='"Liberation Serif", "Noto Serif CJK SC", serif' textLength="59.00" lengthAdjust="spacing">墨西哥比索</text>
<rect x="838.90" y="728.90" width="11.10" height="13.60" fill="#4E7A12"/>
<text transform="translate(858.50,739.20)" font-size="11.5" text-anchor="start" fill="#222" font-family='"Liberation Serif", "Noto Serif CJK SC", serif' textLength="47.00" lengthAdjust="spacing">智利比索</text>
<line x1="914.20" y1="735.70" x2="944.40" y2="735.70" stroke="#9A6FBE" stroke-width="1.7"/>
<line x1="922.60" y1="732.50" x2="929.00" y2="738.90" stroke="#9A6FBE" stroke-width="1.7"/>
<line x1="922.60" y1="738.90" x2="929.00" y2="732.50" stroke="#9A6FBE" stroke-width="1.7"/>
<text transform="translate(953.60,739.20)" font-size="11.5" text-anchor="start" fill="#222" font-family='"Liberation Serif", "Noto Serif CJK SC", serif' textLength="69.60" lengthAdjust="spacing">发行项目笔数</text>
<text transform="translate(1025.70,738.80)" font-size="12.5" text-anchor="start" fill="#222" font-family='"Liberation Serif", "Noto Serif CJK SC", serif'>(</text>
<text transform="translate(1029.20,739.20)" font-size="11.5" text-anchor="start" fill="#222" font-family='"Liberation Serif", "Noto Serif CJK SC", serif'>右</text>
<text transform="translate(1041.90,738.80)" font-size="12.5" text-anchor="start" fill="#222" font-family='"Liberation Serif", "Noto Serif CJK SC", serif'>)</text>
<text x="625.60" y="782.60" fill="#222" font-family='"Liberation Serif", "Noto Serif CJK SC", serif'><tspan font-size="12.8" letter-spacing="0.75">注：以</tspan><tspan font-size="13.9" dx="3.6" stroke="#222" stroke-width="0.12">10</tspan><tspan font-size="12.8" letter-spacing="0.75" dx="3.6">亿美元为单位。资料来源：彭博资讯、</tspan><tspan font-size="13.9" stroke="#222" stroke-width="0.12">MSCI</tspan><tspan font-size="12.8" letter-spacing="0.75">、美林</tspan></text>
</svg>
</body></html>
